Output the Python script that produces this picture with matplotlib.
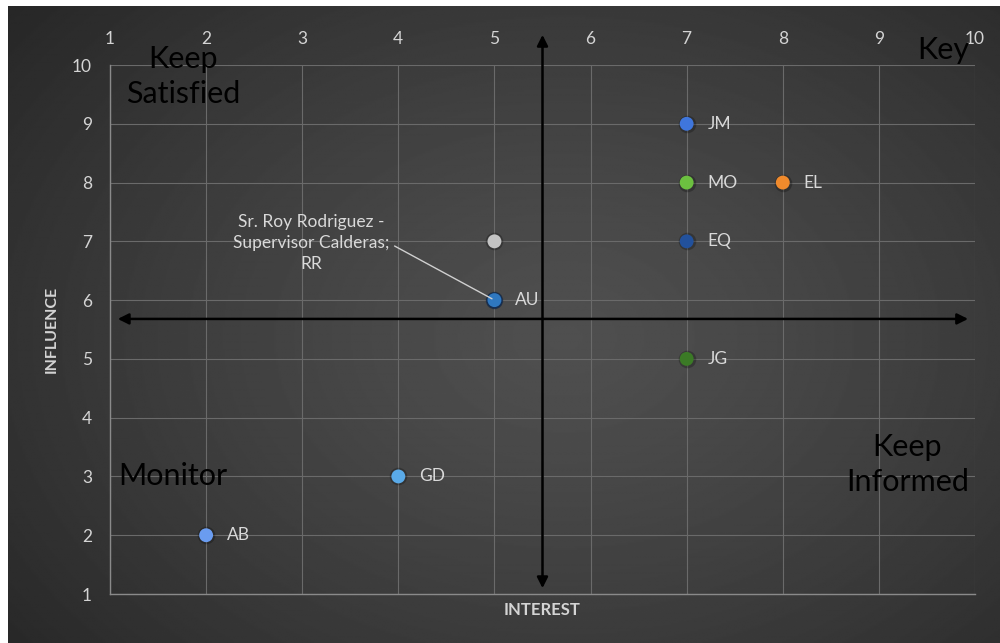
import numpy as np
import matplotlib
matplotlib.use("Agg")
import matplotlib.pyplot as plt

plt.rcParams['font.family'] = ['Lato', 'DejaVu Sans']

# Stakeholder positions: interest (x) vs influence (y)
names = ["JM", "MO", "EL", "EQ", "", "AU", "JG", "GD", "AB"]
interest = [7, 7, 8, 7, 5, 5, 7, 4, 2]
influence = [9, 8, 8, 7, 7, 6, 5, 3, 2]
colors = ["#3f76dc", "#6cc040", "#f08a2c", "#22519c", "#c4c4c4",
          "#2f78c0", "#3b7a26", "#5aaae8", "#6a9cf0"]

# Stakeholder with a called-out label
rr_name = "Sr. Roy Rodriguez -\nSupervisor Calderas;\nRR"
rr_interest = 5
rr_influence = 6

ticks = [1, 2, 3, 4, 5, 6, 7, 8, 9, 10]

fig = plt.figure(figsize=(10, 6.43), dpi=100)
fig.patch.set_facecolor("white")

# Dark radial-gradient backdrop
bg = fig.add_axes([0.008, 0.0, 0.992, 0.991])
bg.set_axis_off()
h, w = 400, 620
yy, xx = np.mgrid[0:h, 0:w]
cx, cy = 0.56 * w, 0.52 * h
r = np.sqrt(((xx - cx) / (0.75 * w)) ** 2 + ((yy - cy) / (0.85 * h)) ** 2)
r = np.clip(r, 0, 1)
lo, hi = 0.145, 0.31
img = hi - (hi - lo) * r ** 1.3
bg.imshow(img, cmap="gray", vmin=0, vmax=1, aspect="auto",
          extent=[0, 1, 0, 1], interpolation="bilinear")
bg.set_xlim(0, 1)
bg.set_ylim(0, 1)

ax = fig.add_axes([0.11, 0.0762, 0.865, 0.8227])
ax.set_facecolor("none")
ax.set_xlim(1, 10)
ax.set_ylim(1, 10)
ax.set_xticks(ticks)
ax.set_yticks(ticks)
ax.xaxis.tick_top()
ax.tick_params(axis="x", length=0, pad=13, labelsize=12.5, labelcolor="#d4d4d4")
ax.tick_params(axis="y", length=0, pad=13, labelsize=12.5, labelcolor="#d4d4d4")
ax.grid(True, color="#6a6a6a", lw=0.8)
for s in ("top", "right"):
    ax.spines[s].set_visible(False)
for s in ("left", "bottom"):
    ax.spines[s].set_color("#8a8a8a")
    ax.spines[s].set_linewidth(1.0)

# Points
ax.scatter([rr_interest], [rr_influence], s=120, color="#1d3e6e", zorder=3)
for x, y, c in zip(interest, influence, colors):
    ax.scatter([x], [y], s=160, color="black", alpha=0.25, zorder=3, linewidths=0)
    ax.scatter([x], [y], s=100, color=c, zorder=4, edgecolors="none")

for n, x, y in zip(names, interest, influence):
    if n:
        ax.annotate(n, (x, y), xytext=(15, 0), textcoords="offset points",
                    ha="left", va="center", fontsize=12.5, color="#d9d9d9", zorder=5)

ax.annotate(rr_name, (rr_interest, rr_influence), xytext=(-132, 41),
            textcoords="offset points", ha="center", va="center",
            fontsize=12.5, color="#d9d9d9", linespacing=1.4, zorder=5,
            arrowprops=dict(arrowstyle="-", color="#d0d0d0", lw=1.0,
                            relpos=(1.0, 0.5), shrinkA=2, shrinkB=2))

# Quadrant dividers
ax.annotate("", xy=(0.5, 1.057), xytext=(0.5, 0.011), xycoords="axes fraction",
            arrowprops=dict(arrowstyle="<|-|>", color="black", lw=1.8,
                            mutation_scale=16, shrinkA=0, shrinkB=0),
            annotation_clip=False, zorder=6)
ax.annotate("", xy=(0.992, 0.52), xytext=(0.009, 0.52), xycoords="axes fraction",
            arrowprops=dict(arrowstyle="<|-|>", color="black", lw=1.8,
                            mutation_scale=16, shrinkA=0, shrinkB=0),
            annotation_clip=False, zorder=6)

# Quadrant names
qkw = dict(transform=ax.transAxes, color="black", fontsize=22,
           ha="center", va="center", linespacing=1.3, zorder=7)
ax.text(0.085, 0.979, "Keep\nSatisfied", **qkw)
ax.text(0.963, 1.028, "Key", **qkw)
ax.text(0.073, 0.223, "Monitor", **qkw)
ax.text(0.922, 0.244, "Keep\nInformed", **qkw)

# Axis titles
ax.text(0.5, -0.03, "INTEREST", transform=ax.transAxes, ha="center", va="center",
        fontsize=12, fontweight="bold", color="#d4d4d4")
ax.text(-0.067, 0.5, "INFLUENCE", transform=ax.transAxes, ha="center", va="center",
        rotation=90, fontsize=11.5, fontweight="bold", color="#d4d4d4")

fig.savefig("out.png", dpi=100, facecolor="white")
